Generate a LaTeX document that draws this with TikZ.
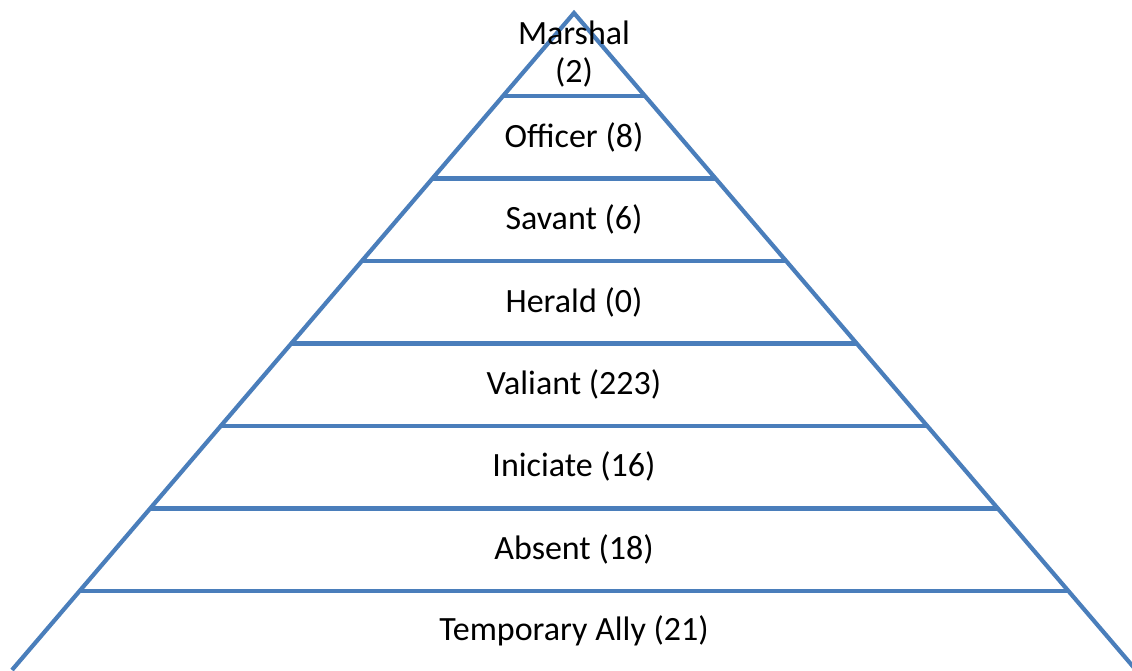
\documentclass[tikz,border=0pt]{standalone}
\usepackage{fontspec}
\setmainfont{Carlito}
\usetikzlibrary{calc}
\definecolor{pyrblue}{RGB}{74,126,187}
\tikzset{
  edge/.style={draw=pyrblue, line width=4.2pt},
  lbl/.style={font=\fontsize{34}{38}\selectfont, text=black, inner sep=0pt, align=center}
}
\begin{document}
\begin{tikzpicture}[x=1pt,y=-1pt]
\useasboundingbox (0,0) rectangle (1132,670);
\coordinate (apex) at (574,13);
\coordinate (bl) at (12,670);
\coordinate (br) at (1136,670);
\clip (0,0) rectangle (1132,670);
\draw[edge, line join=miter] (bl) -- (apex) -- (br);
\foreach \yy [count=\i] in {96,178.5,261,343.5,426,508.5,591} {
  \pgfmathsetmacro{\t}{(\yy-13)/(670-13)}
  \coordinate (l\i) at ($(apex)!\t!(bl)$);
  \coordinate (r\i) at ($(apex)!\t!(br)$);
  \draw[edge] (l\i) -- (r\i);
}
\node[lbl] (n1) at (574,54) {Marshal\\(2)};
\node[lbl] (n2) at (574,137) {Officer (8)};
\node[lbl] (n3) at (574,219) {Savant (6)};
\node[lbl] (n4) at (574,302) {Herald (0)};
\node[lbl] (n5) at (574,384) {Valiant (223)};
\node[lbl] (n6) at (574,466) {Iniciate (16)};
\node[lbl] (n7) at (574,549) {Absent (18)};
\node[lbl] (n8) at (574,631) {Temporary Ally (21)};
\end{tikzpicture}
\end{document}
